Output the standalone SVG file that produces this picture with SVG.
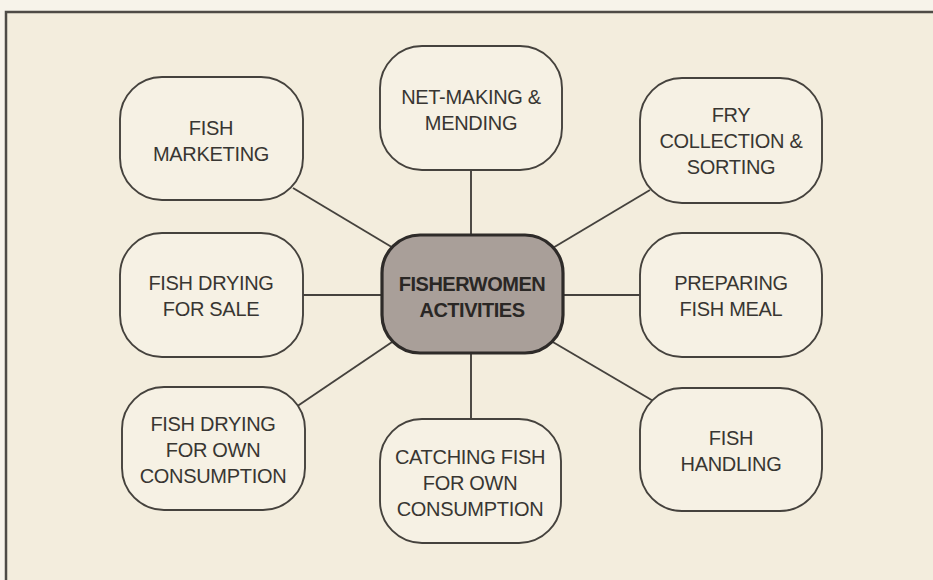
<svg xmlns="http://www.w3.org/2000/svg" width="933" height="580" viewBox="0 0 933 580">
<style>
.node{fill:#f6f1e4;stroke:#45423d;stroke-width:1.9}
.hub{fill:#a99f99;stroke:#2e2b29;stroke-width:3.2}
.t{font-family:"Liberation Sans",Arial,sans-serif;font-size:20px;fill:#383632;text-anchor:middle;letter-spacing:-0.3px}
.tb{font-family:"Liberation Sans",Arial,sans-serif;font-size:20px;font-weight:bold;fill:#2a2725;text-anchor:middle;letter-spacing:-0.5px}
.c line{stroke:#45423d;stroke-width:1.9}
</style>
<rect x="0" y="0" width="933" height="580" fill="#f7f3ea"/>
<rect x="6" y="12" width="927" height="568" fill="#f3eddd"/>
<path d="M6 580 V12 H933" fill="none" stroke="#4e4b46" stroke-width="2.5"/>
<g class="c" id="connectors">
<line x1="293" y1="188" x2="400" y2="252"/>
<line x1="303" y1="295" x2="383" y2="295"/>
<line x1="296" y1="407" x2="398" y2="338"/>
<line x1="471" y1="170" x2="471" y2="236"/>
<line x1="650" y1="190" x2="546" y2="252"/>
<line x1="562" y1="295" x2="640" y2="295"/>
<line x1="655" y1="402" x2="546" y2="338"/>
<line x1="471" y1="352" x2="471" y2="420"/>
</g>
<g id="hub"><rect class="hub" x="382" y="235" width="181" height="118" rx="38"/>
<text class="tb" x="472" y="291">FISHERWOMEN</text><text class="tb" x="472" y="317">ACTIVITIES</text></g>
<g id="fish-marketing"><rect class="node" x="120" y="77" width="183" height="123" rx="42"/>
<text class="t" x="211" y="135">FISH</text><text class="t" x="211" y="161">MARKETING</text></g>
<g id="fish-drying-sale"><rect class="node" x="120" y="233" width="183" height="124" rx="42"/>
<text class="t" x="211" y="290">FISH DRYING</text><text class="t" x="211" y="316">FOR SALE</text></g>
<g id="fish-drying-own"><rect class="node" x="122" y="387" width="183" height="123" rx="42"/>
<text class="t" x="213" y="431">FISH DRYING</text><text class="t" x="213" y="457">FOR OWN</text><text class="t" x="213" y="483">CONSUMPTION</text></g>
<g id="net-making"><rect class="node" x="380" y="46" width="182" height="124" rx="42"/>
<text class="t" x="471" y="104">NET-MAKING &amp;</text><text class="t" x="471" y="130">MENDING</text></g>
<g id="fry"><rect class="node" x="640" y="78" width="182" height="125" rx="42"/>
<text class="t" x="731" y="122">FRY</text><text class="t" x="731" y="148">COLLECTION &amp;</text><text class="t" x="731" y="174">SORTING</text></g>
<g id="fish-meal"><rect class="node" x="640" y="233" width="182" height="124" rx="42"/>
<text class="t" x="731" y="290">PREPARING</text><text class="t" x="731" y="316">FISH MEAL</text></g>
<g id="fish-handling"><rect class="node" x="640" y="388" width="182" height="123" rx="42"/>
<text class="t" x="731" y="445">FISH</text><text class="t" x="731" y="471">HANDLING</text></g>
<g id="catching-fish"><rect class="node" x="380" y="419" width="181" height="124" rx="42"/>
<text class="t" x="470" y="464">CATCHING FISH</text><text class="t" x="470" y="490">FOR OWN</text><text class="t" x="470" y="516">CONSUMPTION</text></g>
</svg>
